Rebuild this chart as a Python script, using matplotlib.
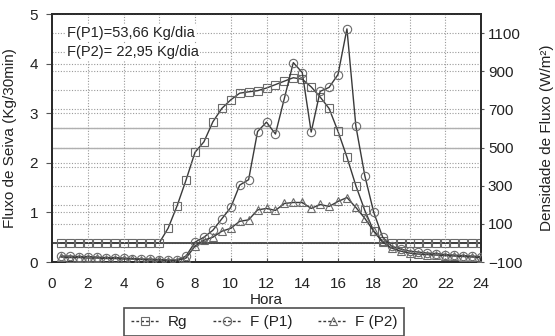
import matplotlib
matplotlib.use("Agg")
import matplotlib.pyplot as plt
from matplotlib.lines import Line2D

plt.rcParams['font.family'] = ['Liberation Sans', 'DejaVu Sans']

# half-hour readings, 0.5 h .. 24 h
hora = [0.5, 1.0, 1.5, 2.0, 2.5, 3.0, 3.5, 4.0, 4.5, 5.0, 5.5, 6.0,
        6.5, 7.0, 7.5, 8.0, 8.5, 9.0, 9.5, 10.0, 10.5, 11.0, 11.5, 12.0,
        12.5, 13.0, 13.5, 14.0, 14.5, 15.0, 15.5, 16.0, 16.5, 17.0, 17.5, 18.0,
        18.5, 19.0, 19.5, 20.0, 20.5, 21.0, 21.5, 22.0, 22.5, 23.0, 23.5, 24.0]

# global radiation (W/m2), right axis
rg = [0, 0, 0, 0, 0, 0, 0, 0, 0, 0, 0, 0,
      78, 195, 330, 475, 530, 635, 705, 750, 785, 792, 798, 812,
      830, 848, 866, 858, 818, 765, 705, 585, 450, 300, 170, 62,
      8, 0, 0, 0, 0, 0, 0, 0, 0, 0, 0, 0]

# sap flow (Kg/30min), left axis
f_p1 = [0.12, 0.12, 0.11, 0.11, 0.10, 0.09, 0.09, 0.08, 0.07, 0.06, 0.06, 0.05,
        0.04, 0.04, 0.12, 0.40, 0.50, 0.64, 0.87, 1.10, 1.55, 1.66, 2.63, 2.82,
        2.58, 3.30, 4.02, 3.82, 2.62, 3.44, 3.52, 3.78, 4.70, 2.74, 1.74, 1.00,
        0.50, 0.32, 0.26, 0.22, 0.20, 0.18, 0.17, 0.15, 0.14, 0.13, 0.12, 0.11]

f_p2 = [0.10, 0.09, 0.09, 0.08, 0.08, 0.07, 0.07, 0.06, 0.06, 0.05, 0.04, 0.04,
        0.03, 0.03, 0.08, 0.32, 0.44, 0.50, 0.62, 0.68, 0.82, 0.85, 1.05, 1.08,
        1.04, 1.18, 1.20, 1.20, 1.08, 1.16, 1.12, 1.22, 1.30, 1.10, 0.88, 0.62,
        0.40, 0.28, 0.22, 0.18, 0.16, 0.15, 0.14, 0.13, 0.12, 0.11, 0.10, 0.09]

x_ticks = list(range(0, 25, 2))
left_ticks = [0, 1, 2, 3, 4, 5]
right_ticks = [-100, 100, 300, 500, 700, 900, 1100]
right_grid = list(range(-100, 1200, 100))

line_c = '#3a3a3a'
mark_c = '#6a6a6a'
grid_c = '#9a9a9a'
text_c = '#222222'
ms = 6

fig = plt.figure(figsize=(5.55, 3.36), dpi=100)
ax = fig.add_axes([52 / 555, 1 - 262 / 336, (481 - 52) / 555, (262 - 14) / 336])
ax2 = ax.twinx()
ax.set_zorder(ax2.get_zorder() + 1)
ax.patch.set_visible(False)

# right axis: Rg and its grid
for v in right_grid:
    ax2.axhline(v, color=grid_c, lw=0.8, ls=(0, (1, 1.5)), zorder=0)
ax2.axhline(500, color='#b0b0b0', lw=1.0, zorder=0.5)
ax2.axhline(600, color='#b0b0b0', lw=1.0, zorder=0.5)
ax2.axhline(0, color='#404040', lw=1.3, zorder=0.6)
ax2.plot(hora, rg, color=line_c, lw=1.0, marker='s', ms=ms, mfc='none',
         mec=mark_c, mew=0.8, zorder=2)
ax2.set_ylim(-100, 1200)
ax2.set_yticks(right_ticks)
ax2.set_ylabel('Densidade de Fluxo (W/m²)', fontsize=11, color=text_c, labelpad=13)
ax2.tick_params(axis='y', direction='out', length=2, pad=3, labelsize=11,
                labelcolor=text_c, color='#555555')

# left axis: sap flow
for h in x_ticks[1:-1]:
    ax.axvline(h, color=grid_c, lw=0.8, ls=(0, (1, 1.5)), zorder=0)
for v in left_ticks[1:]:
    ax.axhline(v, color=grid_c, lw=0.8, ls=(0, (1, 1.5)), zorder=0)
ax.plot(hora, f_p1, color=line_c, lw=1.0, marker='o', ms=ms, mfc='none',
        mec=mark_c, mew=0.8, zorder=3)
ax.plot(hora, f_p2, color=line_c, lw=1.0, marker='^', ms=ms, mfc='none',
        mec=mark_c, mew=0.8, zorder=3)
ax.set_xlim(0, 24)
ax.set_ylim(0, 5)
ax.set_xticks(x_ticks)
ax.set_yticks(left_ticks)
ax.set_xlabel('Hora', fontsize=11, color=text_c, labelpad=1)
ax.set_ylabel('Fluxo de Seiva (Kg/30min)', fontsize=11, color=text_c, labelpad=9)
ax.tick_params(axis='y', direction='out', length=4, pad=6, labelsize=11,
               labelcolor=text_c, color='#555555')
ax.tick_params(axis='x', direction='in', length=3, pad=11, labelsize=11,
               labelcolor=text_c, color='#555555')

for a in (ax, ax2):
    for s in a.spines.values():
        s.set_color('#2a2a2a')
        s.set_linewidth(1.3)

ax.text(0.85, 4.62, 'F(P1)=53,66 Kg/dia', fontsize=10.5, color=text_c, va='center',
        bbox=dict(facecolor='white', edgecolor='none', pad=0.5), zorder=5)
ax.text(0.85, 4.23, 'F(P2)= 22,95 Kg/dia', fontsize=10.5, color=text_c, va='center',
        bbox=dict(facecolor='white', edgecolor='none', pad=0.5), zorder=5)

handles = [
    Line2D([], [], color=line_c, lw=1.0, ls=(0, (2, 1.5)), marker='s', ms=ms,
           mfc='none', mec=mark_c, mew=0.8),
    Line2D([], [], color=line_c, lw=1.0, ls=(0, (2, 1.5)), marker='o', ms=ms,
           mfc='none', mec=mark_c, mew=0.8),
    Line2D([], [], color=line_c, lw=1.0, ls=(0, (2, 1.5)), marker='^', ms=ms,
           mfc='none', mec=mark_c, mew=0.8),
]
leg = fig.legend(handles, ['Rg', 'F (P1)', 'F (P2)'], loc='upper center',
                 bbox_to_anchor=(264 / 555, 1 - 308 / 336), ncol=3, fontsize=11,
                 frameon=True, fancybox=False, edgecolor='#222222',
                 handlelength=1.9, handletextpad=0.5, columnspacing=1.7,
                 borderpad=0.45, borderaxespad=0)
leg.get_frame().set_linewidth(1.2)
for t in leg.get_texts():
    t.set_color(text_c)

fig.savefig('out.png', dpi=100)
